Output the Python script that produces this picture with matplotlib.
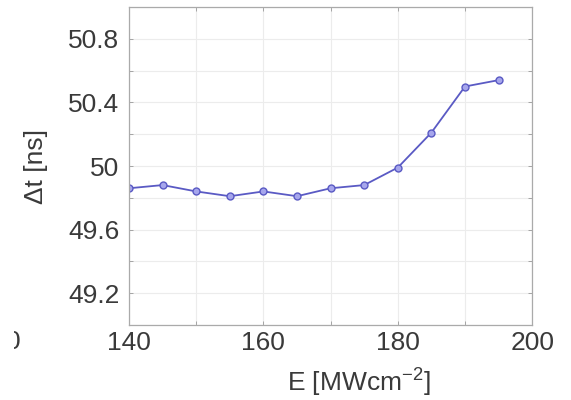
import matplotlib
matplotlib.use('Agg')
from matplotlib import pyplot as plt, patches
import numpy as np

# values
energy = [140, 145, 150, 155, 160, 165, 170, 175, 180, 185, 190, 195]
delta_t = [49.86, 49.88, 49.84, 49.81, 49.84, 49.81, 49.86, 49.88, 49.99, 50.21, 50.50, 50.54]
x_ticks = [140, 150, 160, 170, 180, 190, 200]
y_ticks = [49.0, 49.2, 49.4, 49.6, 49.8, 50.0, 50.2, 50.4, 50.6, 50.8, 51.0]
y_labels = ['', '49.2', '', '49.6', '', '50', '', '50.4', '', '50.8', '']
x_labels = ['140', '', '160', '', '180', '', '200']

TEXT = '#3a3a3a'
LINE = '#5a5ac4'

plt.rcParams['font.family'] = ['Liberation Sans', 'DejaVu Sans']

fig = plt.figure(figsize=(5.71, 4.0), dpi=100)
ax = fig.add_axes([0.226, 0.1875, 0.706, 0.795])

ax.plot(energy, delta_t, color=LINE, linewidth=1.3, marker='o', markersize=5,
        markerfacecolor='#a6a6ec', markeredgecolor=LINE, markeredgewidth=1.0)

ax.set_xlim(140, 200)
ax.set_ylim(49.0, 51.0)
ax.set_xticks(x_ticks)
ax.set_xticklabels(x_labels)
ax.set_yticks(y_ticks)
ax.set_yticklabels(y_labels)
ax.grid(True, color='#ececec', linewidth=0.8)
ax.tick_params(direction='in', length=3, width=0.6, color='#999999',
               top=True, right=True, labelsize=19, labelcolor=TEXT)
ax.tick_params(axis='y', pad=7)
ax.tick_params(axis='x', pad=4)
for sp in ax.spines.values():
    sp.set_color('#aaaaaa')
    sp.set_linewidth(0.9)

ax.set_xlabel('E [MWcm$^{\\mathregular{-2}}$]', fontsize=19, color=TEXT)
ax.xaxis.set_label_coords(0.57, -0.125)
ax.set_ylabel('Δt [ns]', fontsize=19, color=TEXT)
ax.yaxis.set_label_coords(-0.2, 0.5)

# stray character cut off at the left edge
fig.text(21 / 571, 1 - 342 / 400, '0', fontsize=19, color=TEXT, ha='right', va='center')
fig.patches.append(patches.Rectangle((0, 0), 14 / 571, 1, transform=fig.transFigure,
                                     facecolor='white', edgecolor='none', zorder=10))
# right edge of the original crop
fig.patches.append(patches.Rectangle((557 / 571, 0), 1, 1, transform=fig.transFigure,
                                     facecolor='white', edgecolor='none', zorder=10))

fig.savefig('out.png', dpi=100)
